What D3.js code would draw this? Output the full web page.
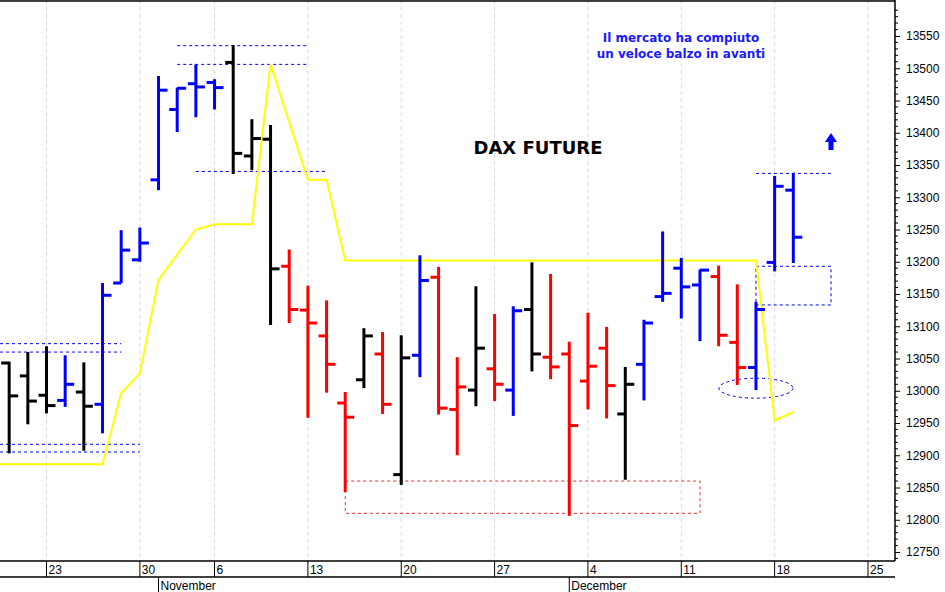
<!DOCTYPE html>
<html><head><meta charset="utf-8">
<script src="https://cdn.jsdelivr.net/npm/d3@7"></script>
<style>body{margin:0;background:#fff}svg{display:block}</style>
</head><body><svg id="c" width="945" height="592"></svg>
<script>
// trading day labels (index 0 = Oct 18)
const days = ["Oct18","Oct19","Oct20","Oct23","Oct24","Oct25","Oct26","Oct27","Oct30","Nov1","Nov2","Nov3","Nov6","Nov7","Nov8","Nov9","Nov10","Nov13","Nov14","Nov15","Nov16","Nov17","Nov20","Nov21","Nov22","Nov23","Nov24","Nov27","Nov28","Nov29","Nov30","Dec1","Dec4","Dec5","Dec6","Dec7","Dec8","Dec11","Dec12","Dec13","Dec14","Dec15","Dec18","Dec19"];
const opens  = [13030,13043,13023,12993,12985,12998,12979,13167,13203,13327,13436,13476,13478,13509,13364,13390,13193,13125,13085,12981,13017,13057,12870,13055,13176,12971,13001,13034,13001,13126,13052,13057,13015,13066,12964,13041,13146,13190,13164,13177,13075,13036,13199,13311];
const highs  = [13060,13045,13060,13069,13055,13044,13167,13249,13253,13488,13470,13506,13483,13536,13421,13412,13219,13163,13140,12998,13097,13091,13086,13210,13192,13052,13162,13119,13131,13199,13181,13076,13121,13099,13037,13110,13247,13206,13188,13194,13165,13138,13333,13338];
const lows   = [12950,12903,12948,12965,12975,12907,12934,13167,13200,13311,13401,13424,13436,13336,13342,13102,13105,12958,12997,12843,13004,12964,12854,13021,12963,12900,12976,12984,12961,13030,13018,12806,12971,12957,12862,12985,13138,13112,13077,13069,13009,13001,13185,13198];
const closes = [13040,12992,12984,12977,13010,12976,13148,13218,13229,13466,13469,13471,13470,13368,13391,13189,13126,13105,13041,12959,13085,12979,13051,13171,12973,13006,13066,13010,13124,13057,13037,12946,13038,13008,13010,13105,13151,13161,13187,13086,13036,13126,13317,13238];
const colors = ["black","black","black","black","blue","black","blue","blue","blue","blue","blue","blue","blue","black","black","black","red","red","red","red","black","red","black","blue","red","red","black","red","blue","black","red","red","red","red","black","blue","blue","blue","blue","red","red","blue","blue","blue"];
// yellow line: [day index, value]
const yellowIdx = [-1,6,7,8,9,11,12,14,15,17,18,19,41,42,43];
const yellowVal = [12886,12886,12996,13027,13172,13250,13258,13258,13506,13327,13327,13202,13202,12954,12967];
const yTicks = [12750,12800,12850,12900,12950,13000,13050,13100,13150,13200,13250,13300,13350,13400,13450,13500,13550];
const weekIdx = [3,8,12,17,22,27,32,37,42,47];
const weekLabels = ["23","30","6","13","20","27","4","11","18","25"];
const monthIdx = [9,31];
const monthLabels = ["November","December"];

const svg = d3.select("#c");
const x = d3.scaleLinear().domain([0,1]).range([-9.5,-9.5+18.67]);
const y = d3.scaleLinear().domain([12750,13550]).range([552,36]);
const PR = 895, PB = 561;
const g = svg.append("g");
// gridlines
g.selectAll(".vg").data(weekIdx).join("line").attr("x1",d=>x(d)).attr("x2",d=>x(d)).attr("y1",0).attr("y2",PB)
 .attr("stroke","#d8d8f0").attr("stroke-dasharray","4,3");
// frame
g.append("line").attr("x1",0).attr("x2",PR).attr("y1",1).attr("y2",1).attr("stroke","#000").attr("stroke-width",1.5);
g.append("line").attr("x1",PR).attr("x2",PR).attr("y1",0).attr("y2",PB).attr("stroke","#000").attr("stroke-width",1.5);
g.append("line").attr("x1",0).attr("x2",PR).attr("y1",PB).attr("y2",PB).attr("stroke","#000").attr("stroke-width",1.5);
g.append("line").attr("x1",0).attr("x2",PR).attr("y1",577).attr("y2",577).attr("stroke","#000").attr("stroke-width",1.5);
// right axis
const ax = d3.axisRight(y).tickValues(yTicks).tickSize(5).tickPadding(6).tickFormat(d3.format("d"));
const axg = svg.append("g").attr("transform",`translate(${PR},0)`).call(ax);
axg.select(".domain").remove();
axg.selectAll("text").attr("font-family","Arial, Liberation Sans").attr("font-size",12).attr("fill","#000");
const minor = d3.range(12740,13600,10).filter(v=>v%50!==0);
axg.selectAll(".mn").data(minor).join("line").attr("x1",0).attr("x2",3).attr("y1",d=>y(d)).attr("y2",d=>y(d)).attr("stroke","#000");
// x ticks
g.selectAll(".xt").data(weekIdx).join("line").attr("x1",d=>x(d)).attr("x2",d=>x(d)).attr("y1",PB).attr("y2",577).attr("stroke","#000");
g.selectAll(".xl").data(weekIdx).join("text").attr("x",d=>x(d)+2).attr("y",574).text((d,i)=>weekLabels[i])
 .attr("font-family","Arial, Liberation Sans").attr("font-size",12);
g.selectAll(".mt").data(monthIdx).join("line").attr("x1",d=>x(d)).attr("x2",d=>x(d)).attr("y1",577).attr("y2",592).attr("stroke","#000");
g.selectAll(".ml").data(monthIdx).join("text").attr("x",d=>x(d)+2).attr("y",590).text((d,i)=>monthLabels[i])
 .attr("font-family","Arial, Liberation Sans").attr("font-size",12);

// annotations
const dash = (x1,x2,v1,v2,c)=>g.append("line").attr("x1",x1).attr("x2",x2).attr("y1",y(v1)).attr("y2",y(v2)).attr("stroke",c).attr("stroke-dasharray","3,3");
dash(0,x(7),13073,13073,"blue");dash(0,x(7),13060,13060,"blue");
dash(0,x(8),12917,12917,"blue");dash(0,x(8),12905,12905,"blue");
dash(x(10),x(17),13535,13535,"blue");dash(x(10),x(17),13506,13506,"blue");
dash(x(11),x(18),13340,13340,"blue");
dash(x(41),831,13337,13337,"blue");
g.append("rect").attr("x",x(41)).attr("y",y(13193)).attr("width",831-x(41)).attr("height",y(13133)-y(13193))
 .attr("fill","none").attr("stroke","blue").attr("stroke-dasharray","3,3");
g.append("rect").attr("x",x(19)).attr("y",y(12860)).attr("width",700-x(19)).attr("height",y(12810)-y(12860))
 .attr("fill","none").attr("stroke","#e03030").attr("stroke-dasharray","3,3");
g.append("ellipse").attr("cx",x(41)).attr("cy",y(13004)).attr("rx",37).attr("ry",10)
 .attr("fill","none").attr("stroke","blue").attr("stroke-dasharray","3,3");

// yellow line
const yl = yellowIdx.map((d,i)=>[x(d),y(yellowVal[i])]);
g.append("path").attr("d",d3.line()(yl)).attr("fill","none").attr("stroke","#ffff00").attr("stroke-width",2);

// bars
const bars = g.selectAll(".bar").data(days.map((d,i)=>i)).join("g");
bars.append("line").attr("x1",i=>x(i)).attr("x2",i=>x(i)).attr("y1",i=>y(highs[i])).attr("y2",i=>y(lows[i]))
 .attr("stroke",i=>colors[i]).attr("stroke-width",3);
bars.append("line").attr("x1",i=>x(i)-8).attr("x2",i=>x(i)).attr("y1",i=>y(opens[i])).attr("y2",i=>y(opens[i]))
 .attr("stroke",i=>colors[i]).attr("stroke-width",3);
bars.append("line").attr("x1",i=>x(i)).attr("x2",i=>x(i)+9).attr("y1",i=>y(closes[i])).attr("y2",i=>y(closes[i]))
 .attr("stroke",i=>colors[i]).attr("stroke-width",3);

// texts
svg.append("text").attr("x",538).attr("y",154).attr("text-anchor","middle").attr("font-family","DejaVu Sans")
 .attr("font-weight","bold").attr("font-size",18).text("DAX FUTURE");
svg.append("text").attr("x",681).attr("y",42).attr("text-anchor","middle").attr("font-family","DejaVu Sans")
 .attr("font-weight","bold").attr("font-size",12).attr("fill","#1a1aff").text("Il mercato ha compiuto");
svg.append("text").attr("x",681).attr("y",58).attr("text-anchor","middle").attr("font-family","DejaVu Sans")
 .attr("font-weight","bold").attr("font-size",12).attr("fill","#1a1aff").text("un veloce balzo in avanti");
svg.append("path").attr("d","M831,133 L837,142 L833.5,142 L833.5,150 L828.5,150 L828.5,142 L825,142 Z").attr("fill","blue");
</script></body></html>
